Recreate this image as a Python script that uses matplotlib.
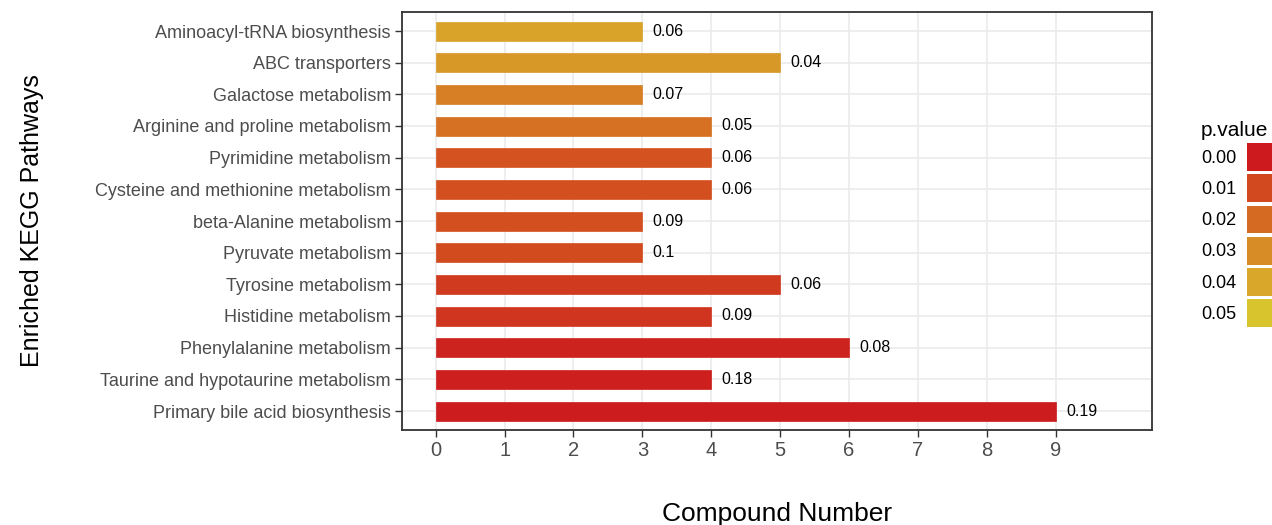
import matplotlib
matplotlib.use("Agg")
import matplotlib.pyplot as plt
from matplotlib.colors import LinearSegmentedColormap, Normalize
from matplotlib.patches import Patch

plt.rcParams['font.family'] = ['Liberation Sans', 'DejaVu Sans']

# pathways, bottom to top
pathways = [
    "Primary bile acid biosynthesis",
    "Taurine and hypotaurine metabolism",
    "Phenylalanine metabolism",
    "Histidine metabolism",
    "Tyrosine metabolism",
    "Pyruvate metabolism",
    "beta-Alanine metabolism",
    "Cysteine and methionine metabolism",
    "Pyrimidine metabolism",
    "Arginine and proline metabolism",
    "Galactose metabolism",
    "ABC transporters",
    "Aminoacyl-tRNA biosynthesis",
]
counts = [9, 4, 6, 4, 5, 3, 3, 4, 4, 4, 3, 5, 3]
bar_labels = ["0.19", "0.18", "0.08", "0.09", "0.06", "0.1", "0.09",
              "0.06", "0.06", "0.05", "0.07", "0.04", "0.06"]
# p values
pvalues = [0.0005, 0.001, 0.002, 0.006, 0.007, 0.011, 0.012,
           0.012, 0.013, 0.022, 0.026, 0.034, 0.038]

legend_ticks = [0.00, 0.01, 0.02, 0.03, 0.04, 0.05]
legend_colors = ["#CC1A1E", "#D2481F", "#D56A22", "#D88C25", "#D9A82A", "#D8C42D"]
x_ticks = list(range(10))

cmap = LinearSegmentedColormap.from_list(
    "pv", list(zip([t / 0.05 for t in legend_ticks], legend_colors)))
norm = Normalize(vmin=0.0, vmax=0.05)

fig = plt.figure(figsize=(12.72, 5.25), dpi=100)
ax = fig.add_axes([402 / 1272, 1 - 430 / 525, 750 / 1272, 418 / 525])

y = range(len(pathways))
colors = [cmap(norm(p)) for p in pvalues]
ax.barh(y, counts, height=0.6, color=colors, edgecolor=colors,
        linewidth=0.5, zorder=3)
for yi, c, lab in zip(y, counts, bar_labels):
    ax.text(c + 0.15, yi, lab, va='center', ha='left', fontsize=11.5,
            color='black', zorder=4)

ax.set_xlim(-0.49, 10.4)
ax.set_ylim(-0.6, len(pathways) - 0.4)
ax.set_xticks(x_ticks)
ax.set_yticks(list(y))
ax.set_yticklabels(pathways)
ax.grid(True, color='#EBEBEB', linewidth=1.2, zorder=0)
ax.set_axisbelow(True)
for s in ax.spines.values():
    s.set_color('#333333')
    s.set_linewidth(1.3)
ax.tick_params(axis='y', labelsize=13.0, colors='#333333', labelcolor='#4D4D4D',
               length=5, width=1, pad=3)
ax.tick_params(axis='x', labelsize=14.5, colors='#333333', labelcolor='#4D4D4D',
               length=5, width=1, pad=3)

ax.set_xlabel("Compound Number", fontsize=19, labelpad=30)
ax.set_ylabel("Enriched KEGG Pathways", fontsize=18, labelpad=37)

handles = [Patch(facecolor=cmap(norm(t)), edgecolor='none') for t in legend_ticks]
labels = [f"{t:.2f}" for t in legend_ticks]
fig.legend(handles, labels, title="p.value", loc='upper left',
           bbox_to_anchor=(1201 / 1272, 1 - 121 / 525), frameon=False,
           markerfirst=False, fontsize=13, title_fontsize=15,
           handlelength=2.6, handleheight=2.0, labelspacing=0.18,
           handletextpad=0.6, borderpad=0, borderaxespad=0, alignment='left')

fig.savefig("out.png", dpi=100)
